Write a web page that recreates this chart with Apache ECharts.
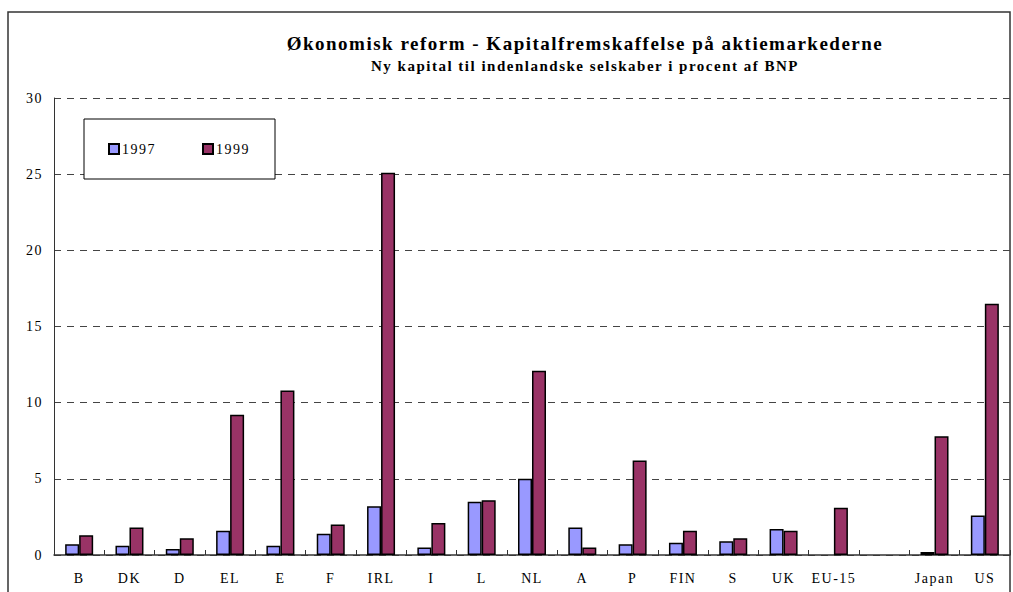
<!DOCTYPE html>
<html><head><meta charset="utf-8">
<script src="https://cdn.jsdelivr.net/npm/echarts@6/dist/echarts.min.js"></script>
<style>html,body{margin:0;padding:0;background:#fff}#c{width:1013px;height:592px}
#c svg text{letter-spacing:1.5px}</style>
</head><body><div id="c"></div>
<script>
const categories = ['B','DK','D','EL','E','F','IRL','I','L','NL','A','P','FIN','S','UK','EU-15','','Japan','US'];
const values1997 = [0.7,0.6,0.4,1.6,0.6,1.4,3.2,0.5,3.5,5.0,1.8,0.7,0.8,0.9,1.7,null,null,0.2,2.6];
const values1999 = [1.3,1.8,1.1,9.2,10.8,2.0,25.1,2.1,3.6,12.1,0.5,6.2,1.6,1.1,1.6,3.1,null,7.8,16.5];
const seriesNames = ['1997','1999'];
const titleText = 'Økonomisk reform - Kapitalfremskaffelse på aktiemarkederne';
const subtitleText = 'Ny kapital til indenlandske selskaber i procent af BNP';

const FONT = '"Liberation Serif", "DejaVu Serif", serif';
const chart = echarts.init(document.getElementById('c'), null, {renderer:'svg'});
chart.setOption({
  animation:false,
  backgroundColor:'#fff',
  graphic:[
    {type:'rect', shape:{x:8,y:12,width:1002,height:600}, style:{fill:'none',stroke:'#333',lineWidth:1.5}, z:-1},
    {type:'text', x:585, y:43, style:{text:titleText, font:'bold 19px '+FONT, fill:'#000', align:'center', verticalAlign:'middle'}},
    {type:'text', x:585, y:66, style:{text:subtitleText, font:'bold 15px '+FONT, fill:'#000', align:'center', verticalAlign:'middle'}}
  ],
  legend:{
    left:84, top:119,
    orient:'horizontal',
    padding:[23,31,23,24],
    itemGap:52, itemWidth:10, itemHeight:10,
    borderColor:'#000', borderWidth:1, backgroundColor:'#fff',
    textStyle:{fontFamily:FONT, fontSize:14, color:'#000', padding:[0,0,0,-2]},
    data:[{name:'1997',icon:'rect'},{name:'1999',icon:'rect'}]
  },
  grid:{left:54, right:3, top:98, bottom:37, containLabel:false},
  xAxis:{
    type:'category', data:categories,
    axisLine:{lineStyle:{color:'#333', width:1.5}},
    axisTick:{show:true, inside:true, length:5, lineStyle:{color:'#333'}},
    axisLabel:{fontFamily:FONT, fontSize:14, color:'#000', margin:16, interval:0}
  },
  yAxis:{
    type:'value', min:0, max:30, interval:5,
    axisLine:{show:true, lineStyle:{color:'#333', width:1}}, axisTick:{show:false},
    axisLabel:{fontFamily:FONT, fontSize:14, color:'#000', margin:11},
    splitLine:{lineStyle:{color:'#444', type:[7,6], width:1}}
  },
  series:[
    {name:seriesNames[0], type:'bar', data:values1997, barWidth:14, barGap:'0%',
     itemStyle:{color:'#9999FF', borderColor:'#000', borderWidth:1.5}},
    {name:seriesNames[1], type:'bar', data:values1999, barWidth:14, barGap:'0%',
     itemStyle:{color:'#993366', borderColor:'#000', borderWidth:1.5}}
  ]
});
</script></body></html>
